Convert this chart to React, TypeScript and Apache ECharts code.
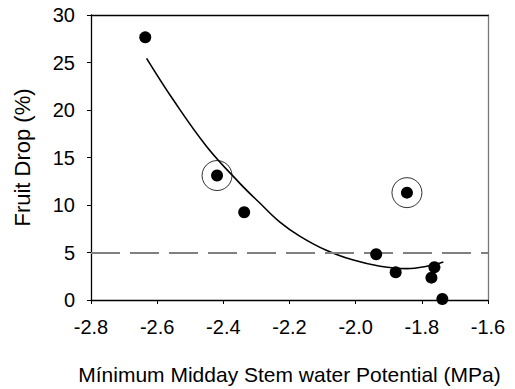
import React, { useEffect, useRef } from "react";
import * as echarts from "echarts";

const xTicks = [-2.8, -2.6, -2.4, -2.2, -2.0, -1.8, -1.6];
const yTicks = [0, 5, 10, 15, 20, 25, 30];

const obsX = [-2.636, -2.419, -2.337, -1.938, -1.879, -1.845, -1.762, -1.771, -1.738];
const obsY = [27.65, 13.1, 9.23, 4.81, 2.91, 11.3, 3.44, 2.35, 0.1];

const circledX = [-2.419, -1.845];
const circledY = [13.1, 11.3];

const fitX = [-2.632, -2.551, -2.45, -2.35, -2.289, -2.229, -2.168, -2.087, -2.007, -1.926, -1.846, -1.785, -1.735];
const fitY = [25.44, 21.05, 16.14, 12.28, 10.18, 8.2, 6.7, 5.2, 4.2, 3.55, 3.3, 3.55, 4.0];

const thresholdY = 5;

const xTitle = "Mínimum Midday Stem water Potential (MPa)";
const yTitle = "Fruit Drop (%)";

const FONT = "'Liberation Sans', Arial, sans-serif";

export default function App() {
  const ref = useRef<HTMLDivElement>(null);
  useEffect(() => {
    if (!ref.current) return;
    const chart = echarts.init(ref.current, undefined, { renderer: "svg" });
    const fmt = (v: number) => v.toFixed(1);
    chart.setOption({
      animation: false,
      backgroundColor: "#ffffff",
      grid: { left: 91, right: 27, top: 15, bottom: 89, containLabel: false, outerBoundsMode: "none" },
      xAxis: [
        {
          type: "value",
          min: xTicks[0],
          max: xTicks[xTicks.length - 1],
          interval: 0.2,
          name: xTitle,
          nameLocation: "middle",
          nameGap: 64,
          nameTextStyle: { fontFamily: FONT, fontSize: 21, color: "#000" },
          axisLine: { show: true, onZero: false, lineStyle: { color: "#000", width: 1.3 } },
          axisTick: { show: true, length: 4, lineStyle: { color: "#000" } },
          axisLabel: {
            fontFamily: FONT,
            fontSize: 20,
            color: "#000",
            margin: 17,
            formatter: (v: number) => fmt(v),
          },
          splitLine: { show: false },
        },
        {
          type: "value",
          position: "top",
          min: xTicks[0],
          max: xTicks[xTicks.length - 1],
          axisLine: { show: true, onZero: false, lineStyle: { color: "#000", width: 1.3 } },
          axisTick: { show: false },
          axisLabel: { show: false },
          splitLine: { show: false },
        },
      ],
      yAxis: [
        {
          type: "value",
          min: yTicks[0],
          max: yTicks[yTicks.length - 1],
          interval: 5,
          name: yTitle,
          nameLocation: "middle",
          nameGap: 58,
          nameTextStyle: { fontFamily: FONT, fontSize: 22, color: "#000" },
          axisLine: { show: true, onZero: false, lineStyle: { color: "#000", width: 1.3 } },
          axisTick: { show: true, length: 4, lineStyle: { color: "#000" } },
          axisLabel: { fontFamily: FONT, fontSize: 20, color: "#000", margin: 16 },
          splitLine: { show: false },
        },
        {
          type: "value",
          position: "right",
          min: yTicks[0],
          max: yTicks[yTicks.length - 1],
          axisLine: { show: true, onZero: false, lineStyle: { color: "#777", width: 1.3 } },
          axisTick: { show: false },
          axisLabel: { show: false },
          splitLine: { show: false },
        },
      ],
      series: [
        {
          type: "line",
          data: [],
          markLine: {
            silent: true,
            symbol: "none",
            label: { show: false },
            lineStyle: { color: "#808080", width: 2, type: [29, 10] },
            data: [{ yAxis: thresholdY }],
          },
        },
        {
          type: "line",
          smooth: 0.4,
          showSymbol: false,
          symbol: "none",
          lineStyle: { color: "#000", width: 1.6 },
          data: fitX.map((x, i) => [x, fitY[i]]),
          z: 3,
        },
        {
          type: "scatter",
          symbol: "circle",
          symbolSize: 30,
          itemStyle: { color: "none", borderColor: "#000", borderWidth: 1 },
          data: circledX.map((x, i) => [x, circledY[i]]),
          z: 4,
        },
        {
          type: "scatter",
          symbol: "circle",
          symbolSize: 12,
          itemStyle: { color: "#000", opacity: 1 },
          data: obsX.map((x, i) => [x, obsY[i]]),
          z: 5,
        },
      ],
    });
    return () => chart.dispose();
  }, []);
  return <div ref={ref} style={{ width: 515, height: 389, position: "absolute", left: 0, top: 0 }} />;
}
